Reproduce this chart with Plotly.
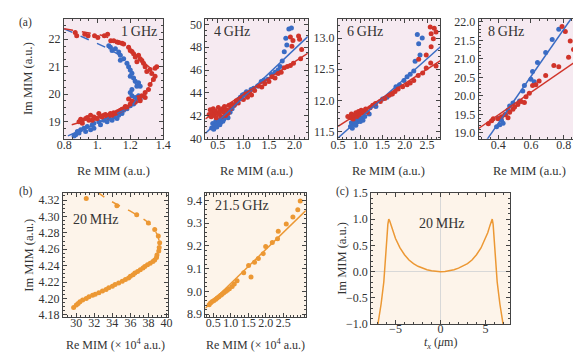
import plotly.graph_objects as go

# ---------------- data ----------------
# (a) 1 GHz : Re / Im MIM for two traces (red, blue) and dashed fit curves
g1_red_x = [0.867, 0.876, 0.925, 0.945, 0.984, 1.004, 1.043, 1.063, 1.082, 1.10, 1.12, 1.131, 1.15, 1.16, 1.19, 1.20,
            1.21, 1.22, 1.23, 1.25, 1.26, 1.24, 1.27, 1.28, 1.29, 1.30, 1.32, 1.33, 1.35, 1.36, 1.35, 1.34, 1.32, 1.31,
            1.29, 1.27, 1.29, 1.25, 1.26, 1.23, 1.21, 1.20, 1.18, 1.17, 1.16, 1.19, 1.14, 1.15, 1.13, 1.12, 1.10, 1.08,
            1.07, 1.05, 1.04, 1.02, 1.01, 0.99, 0.98, 0.96, 0.94, 0.93, 0.91, 0.90, 0.89, 0.91, 0.95, 0.97, 1.00, 1.03,
            1.06, 1.09, 1.11]
g1_red_y = [22.24, 22.12, 22.18, 22.12, 22.12, 22.06, 22.12, 22.18, 21.94, 21.94, 21.90, 21.88, 21.85, 21.82, 21.71, 21.59,
            21.55, 21.47, 21.35, 21.41, 21.29, 21.18, 21.22, 21.12, 21.00, 20.82, 20.90, 20.75, 20.94, 21.00, 20.65, 20.53,
            20.35, 20.17, 20.06, 19.94, 19.88, 19.88, 19.76, 19.70, 19.75, 19.64, 19.53, 19.55, 19.47, 19.82, 19.41, 19.45,
            19.38, 19.35, 19.32, 19.29, 19.22, 19.26, 19.23, 19.20, 19.29, 19.12, 19.17, 19.23, 19.15, 19.11, 19.05, 19.08,
            18.99, 18.94, 19.05, 19.05, 19.11, 19.17, 19.17, 19.23, 19.29]
g1_blue_x = [1.07, 1.08, 1.09, 1.11, 1.13, 1.14, 1.14, 1.16, 1.18, 1.19, 1.20, 1.21, 1.20, 1.22, 1.23, 1.25, 1.26, 1.24,
             1.21, 1.20, 1.21, 1.23, 1.25, 1.26, 1.24, 1.22, 1.20, 1.18, 1.16, 1.15, 1.13, 1.10, 1.07, 1.04, 1.01, 0.98,
             0.97, 0.94, 0.92, 0.90, 0.88, 0.87, 0.86, 0.89, 0.93, 0.96, 0.98, 1.02, 1.06, 1.09, 1.12]
g1_blue_y = [21.76, 21.71, 21.59, 21.65, 21.53, 21.41, 21.23, 21.29, 21.12, 21.00, 20.88, 20.76, 20.65, 20.59, 20.47, 20.41,
             20.29, 20.29, 20.17, 20.06, 19.94, 19.88, 19.94, 19.82, 19.76, 19.64, 19.58, 19.47, 19.41, 19.29, 19.23, 19.17,
             19.11, 19.05, 18.99, 18.94, 18.88, 18.82, 18.76, 18.70, 18.64, 18.52, 18.47, 18.58, 18.64, 18.70, 18.76, 18.88,
             18.99, 19.05, 19.11]
g1_red_fit_x = [0.80, 0.90, 1.02, 1.10, 1.18, 1.24, 1.28, 1.32, 1.34, 1.33, 1.31, 1.29, 1.24, 1.18, 1.14, 1.06, 0.98,
                0.90, 0.82, 0.80]
g1_red_fit_y = [22.38, 22.28, 22.15, 22.00, 21.72, 21.40, 21.18, 20.95, 20.75, 20.45, 20.20, 19.98, 19.72, 19.52, 19.42,
                19.26, 19.12, 18.98, 18.83, 18.80]
g1_blue_fit_x = [0.80, 0.90, 0.98, 1.06, 1.12, 1.16, 1.18, 1.20, 1.22, 1.235, 1.24, 1.235, 1.22, 1.19, 1.14, 1.06, 0.98,
                 0.90, 0.83, 0.80]
g1_blue_fit_y = [22.38, 22.10, 21.88, 21.68, 21.47, 21.30, 21.12, 20.90, 20.60, 20.30, 19.95, 19.80, 19.65, 19.50, 19.35,
                 19.10, 18.88, 18.68, 18.48, 18.42]

# (a) 4 GHz
g4_red_x = [0.33, 0.35, 0.37, 0.39, 0.41, 0.43, 0.45, 0.47, 0.49, 0.51, 0.53, 0.55, 0.57, 0.59, 0.61, 0.63, 0.65, 0.67,
            0.70, 0.72, 0.75, 0.78, 0.82, 0.86, 0.90, 0.95, 1.00, 1.05, 1.08, 1.12, 1.16, 1.22, 1.30, 1.36, 1.42, 1.50,
            1.56, 1.62, 1.68, 1.74, 1.80, 1.86, 1.92, 1.98, 2.08, 2.10, 2.14, 2.12, 1.92, 1.97, 1.95]
g4_red_y = [42.1, 42.5, 41.9, 42.3, 42.6, 42.0, 42.4, 41.8, 42.2, 42.7, 42.1, 42.4, 41.9, 42.6, 42.3, 42.8, 42.0, 42.5,
            42.2, 42.9, 42.6, 43.0, 42.9, 43.3, 43.1, 43.5, 43.4, 43.9, 43.6, 44.0, 43.8, 44.2, 44.6, 44.5, 44.8, 45.0,
            45.4, 45.3, 45.7, 45.8, 46.2, 46.3, 46.4, 46.6, 49.0, 48.7, 47.8, 47.0, 48.9, 48.6, 48.1]
g4_blue_x = [0.38, 0.40, 0.42, 0.44, 0.46, 0.48, 0.50, 0.52, 0.54, 0.56, 0.58, 0.60, 0.62, 0.65, 0.68, 0.70, 0.74, 0.78,
             0.82, 0.86, 0.90, 0.94, 0.98, 1.02, 1.06, 1.10, 1.15, 1.20, 1.28, 1.35, 1.40, 1.48, 1.55, 1.62, 1.68, 1.72,
             1.76, 1.80, 1.85, 1.83, 1.89, 1.94]
g4_blue_y = [40.9, 41.3, 40.8, 41.1, 41.5, 41.0, 41.3, 41.6, 41.2, 41.4, 41.8, 41.5, 41.7, 41.9, 42.0, 41.8, 42.3, 42.6,
             42.9, 43.1, 43.4, 43.6, 43.8, 43.9, 44.1, 44.0, 44.3, 44.4, 44.6, 45.0, 45.1, 45.2, 45.6, 45.8, 46.0, 46.3,
             46.8, 47.6, 48.2, 48.8, 49.6, 49.7]
g4_red_fit = [40.966, 2.88]    # intercept, slope
g4_blue_fit = [39.336, 4.25]

# (a) 6 GHz
g6_red_x = [0.72, 0.78, 0.80, 0.84, 0.86, 0.90, 0.93, 0.96, 0.98, 1.02, 1.05, 1.08, 1.12, 1.16, 1.22, 1.28, 1.34, 1.45,
            1.55, 1.65, 1.72, 1.78, 1.85, 1.95, 2.05, 2.12, 2.20, 2.30, 2.40, 2.48, 2.58, 2.70, 2.31, 2.48, 2.59, 2.64,
            2.59, 2.57, 2.66, 2.70]
g6_red_y = [11.74, 11.72, 11.78, 11.70, 11.76, 11.80, 11.74, 11.82, 11.77, 11.84, 11.80, 11.83, 11.86, 11.81, 11.88, 11.92,
            11.95, 11.98, 12.03, 12.08, 12.10, 12.14, 12.18, 12.22, 12.25, 12.28, 12.32, 12.40, 12.44, 12.52, 12.60, 12.55,
            12.66, 12.73, 12.86, 12.99, 13.07, 13.18, 13.16, 13.10]
g6_blue_x = [0.78, 0.80, 0.82, 0.85, 0.88, 0.90, 0.93, 0.96, 1.00, 1.03, 1.06, 1.10, 1.20, 1.35, 1.50, 1.60, 1.70, 1.80,
             1.88, 1.98, 2.05, 2.12, 2.20, 2.23, 2.28, 2.31, 2.34, 2.39]
g6_blue_y = [11.58, 11.64, 11.55, 11.62, 11.68, 11.60, 11.65, 11.70, 11.66, 11.72, 11.68, 11.74, 11.78, 11.90, 12.02, 12.05,
             12.10, 12.22, 12.25, 12.32, 12.38, 12.42, 12.47, 12.63, 13.06, 12.91, 12.73, 13.00]
g6_red_fit = [11.352, 0.459]
g6_blue_fit = [11.075, 0.638]

# (a) 8 GHz
g8_red_x = [0.34, 0.36, 0.37, 0.40, 0.42, 0.44, 0.46, 0.47, 0.49, 0.50, 0.52, 0.54, 0.56, 0.57, 0.59, 0.61, 0.63, 0.65,
            0.69, 0.74, 0.77, 0.79, 0.81, 0.84, 0.86, 0.83]
g8_red_y = [19.25, 19.33, 19.38, 19.38, 19.44, 19.49, 19.41, 19.56, 19.64, 19.70, 19.77, 19.85, 19.82, 19.98, 20.07, 20.28,
            20.30, 20.40, 20.55, 20.82, 20.79, 21.87, 21.74, 21.48, 21.25, 21.04]
g8_blue_x = [0.39, 0.40, 0.41, 0.42, 0.43, 0.445, 0.46, 0.47, 0.49, 0.53, 0.55, 0.56, 0.60, 0.61, 0.62, 0.64, 0.69, 0.73,
             0.77]
g8_blue_y = [19.17, 19.39, 19.22, 19.34, 19.26, 19.50, 19.62, 19.73, 19.81, 19.86, 20.13, 20.28, 20.45, 20.66, 20.38, 20.90,
             21.17, 21.52, 21.80]
g8_red_fit = [18.266, 3.05]
g8_blue_fit = [16.715, 6.35]

# (b) 20 MHz
m20_x = [31.1, 34.5, 36.7, 38.0, 38.7, 39.1, 39.25, 39.2, 39.15, 38.95, 38.7, 38.2, 37.6, 37.1, 36.5, 36.0, 35.45, 34.7,
         34.0, 33.3, 32.5, 31.8, 31.1, 30.4, 30.0, 29.7, 30.2, 30.7, 31.4, 32.1, 32.9, 33.6, 34.3, 35.1, 35.8, 36.3, 36.8,
         37.4, 37.9, 38.5, 38.9]
m20_y = [4.322, 4.313, 4.302, 4.292, 4.284, 4.276, 4.268, 4.262, 4.258, 4.253, 4.247, 4.243, 4.239, 4.235, 4.231, 4.227,
         4.223, 4.219, 4.215, 4.211, 4.207, 4.204, 4.200, 4.196, 4.192, 4.189, 4.194, 4.198, 4.202, 4.205, 4.209, 4.213,
         4.217, 4.221, 4.225, 4.229, 4.233, 4.237, 4.241, 4.245, 4.250]
m20_fit_x = [32.3, 33.3, 34.6, 35.9, 37.0, 37.7, 38.2, 38.6, 39.0, 39.2, 39.2]
m20_fit_y = [4.330, 4.322, 4.314, 4.307, 4.300, 4.295, 4.290, 4.284, 4.278, 4.270, 4.262]

# (b) 21.5 GHz
g215_x = [0.38, 0.42, 0.47, 0.52, 0.57, 0.61, 0.66, 0.71, 0.75, 0.80, 0.85, 0.90, 0.96, 1.04, 1.10, 1.18, 1.37, 1.51,
          1.58, 1.68, 1.79, 1.93, 2.00, 2.19, 2.34, 2.36, 2.59, 2.78, 2.92, 2.99]
g215_y = [8.942, 8.949, 8.956, 8.960, 8.966, 8.971, 8.977, 8.983, 8.988, 8.994, 9.000, 9.005, 9.012, 9.022, 9.033, 9.047,
          9.082, 9.114, 9.064, 9.128, 9.145, 9.166, 9.197, 9.215, 9.232, 9.264, 9.296, 9.327, 9.359, 9.397]
g215_fit = [8.886, 0.149]

# (c) 20 MHz profile
tx = [-6.95, -6.6, -6.3, -6.1, -5.95, -5.85, -5.75, -5.65, -5.5, -5.25, -5.0, -4.5, -4.0, -3.5, -3.0, -2.5, -2.0, -1.5,
      -1.0, -0.5, 0.0, 0.5, 1.0, 1.5, 2.0, 2.5, 3.0, 3.5, 4.0, 4.5, 5.0, 5.25, 5.5, 5.65, 5.75, 5.85, 5.95, 6.1, 6.3,
      6.6, 6.95]
im_tx = [-1.0, -0.62, -0.2, 0.2, 0.65, 0.9, 1.0, 0.97, 0.88, 0.74, 0.63, 0.45, 0.32, 0.22, 0.15, 0.10, 0.065, 0.035,
         0.015, 0.0, -0.005, 0.0, 0.015, 0.035, 0.065, 0.10, 0.15, 0.22, 0.32, 0.45, 0.63, 0.74, 0.88, 0.97, 1.0, 0.9,
         0.65, 0.2, -0.2, -0.62, -1.0]

# ---------------- styling ----------------
W, H = 581, 352
RED = "rgb(208,52,42)"
BLUE = "rgb(58,108,196)"
ORANGE = "rgb(236,152,52)"
BG_A = "#f6eaf1"
BG_B = "#fdf4ea"
FRAME = "#444444"
FONT = "Liberation Serif"
TXT = "#333333"


def xdom(l, r):
    return [l / W, r / W]


def ydom(t, b):
    return [1 - b / H, 1 - t / H]


def axis(dom, rng, tv, tt, anchor, minor_dtick, zero=False, standoff=0):
    return dict(domain=dom, range=rng, tickvals=tv, ticktext=tt, anchor=anchor,
                showline=True, linecolor=FRAME, linewidth=1, mirror="allticks",
                ticks="inside", ticklen=4, tickwidth=1, tickcolor=FRAME, ticklabelstandoff=standoff,
                minor=dict(ticks="inside", ticklen=2, tickcolor=FRAME, dtick=minor_dtick, showgrid=False),
                showgrid=False, zeroline=zero, zerolinecolor="#d8d8d8", zerolinewidth=1,
                tickfont=dict(family=FONT, size=12, color=TXT), fixedrange=True)


fig = go.Figure()


def dots(x, y, color, n):
    fig.add_trace(go.Scatter(x=x, y=y, mode="markers", xaxis="x" + n, yaxis="y" + n,
                             marker=dict(size=5, color=color, line=dict(width=0))))


def curve(x, y, color, n, dash="solid"):
    fig.add_trace(go.Scatter(x=x, y=y, mode="lines", xaxis="x" + n, yaxis="y" + n,
                             line=dict(color=color, width=1.5, dash=dash)))


def fitline(fit, rng, color, n):
    xs = [rng[0], rng[1]]
    curve(xs, [fit[0] + fit[1] * v for v in xs], color, n)


ranges = {
    "1": ([0.798, 1.40], [18.37, 22.74]),
    "2": ([0.255, 2.26], [39.95, 50.5]),
    "3": ([0.50, 2.80], [11.38, 13.31]),
    "4": ([0.28, 0.90], [18.84, 22.08]),
    "5": ([28.5, 40.2], [4.178, 4.329]),
    "6": ([0.27, 3.15], [8.89, 9.434]),
    "7": ([-7.7, 7.7], [-1.005, 1.505]),
}

# 1 GHz
dots(g1_blue_x, g1_blue_y, BLUE, "1")
dots(g1_red_x, g1_red_y, RED, "1")
curve(g1_blue_fit_x, g1_blue_fit_y, BLUE, "1", "dash")
curve(g1_red_fit_x, g1_red_fit_y, RED, "1", "dash")
# 4, 6, 8 GHz
for n, bx, by, rx, ry, bf, rf in [("2", g4_blue_x, g4_blue_y, g4_red_x, g4_red_y, g4_blue_fit, g4_red_fit),
                                  ("3", g6_blue_x, g6_blue_y, g6_red_x, g6_red_y, g6_blue_fit, g6_red_fit),
                                  ("4", g8_blue_x, g8_blue_y, g8_red_x, g8_red_y, g8_blue_fit, g8_red_fit)]:
    dots(bx, by, BLUE, n)
    dots(rx, ry, RED, n)
    fitline(bf, ranges[n][0], BLUE, n)
    fitline(rf, ranges[n][0], RED, n)
# 20 MHz
curve(m20_fit_x, m20_fit_y, ORANGE, "5", "dash")
dots(m20_x, m20_y, ORANGE, "5")
# 21.5 GHz
dots(g215_x, g215_y, ORANGE, "6")
fitline(g215_fit, ranges["6"][0], ORANGE, "6")
# profile
curve(tx, im_tx, ORANGE, "7")

layout = dict(width=W, height=H, margin=dict(l=0, r=0, t=0, b=0), showlegend=False,
              paper_bgcolor="white", plot_bgcolor="rgba(0,0,0,0)")

XS = -5  # pull x tick labels closer to the frame
layout["xaxis"] = axis(xdom(50, 152), ranges["1"][0], [0.8, 1.0, 1.2, 1.4], ["0.8", "1.", "1.2", "1.4"], "y", 0.05,
                       standoff=XS)
layout["yaxis"] = axis(ydom(4, 129), ranges["1"][1], [19, 20, 21, 22], ["19", "20", "21", "22"], "x", 0.25)
layout["xaxis2"] = axis(xdom(195, 300), ranges["2"][0], [0.5, 1.0, 1.5, 2.0], ["0.5", "1.0", "1.5", "2.0"], "y2", 0.1,
                        standoff=XS)
layout["yaxis2"] = axis(ydom(4, 129), ranges["2"][1], [40, 42, 44, 46, 48, 50],
                        ["40", "42", "44", "46", "48", "50"], "x2", 0.5)
layout["xaxis3"] = axis(xdom(331, 436), ranges["3"][0], [0.5, 1.0, 1.5, 2.0, 2.5],
                        ["0.5", "1.0", "1.5", "2.0", "2.5"], "y3", 0.1, standoff=XS)
layout["yaxis3"] = axis(ydom(4, 129), ranges["3"][1], [11.5, 12.0, 12.5, 13.0],
                        ["11.5", "12.0", "12.5", "13.0"], "x3", 0.1)
layout["xaxis4"] = axis(xdom(475, 579), ranges["4"][0], [0.4, 0.6, 0.8], ["0.4", "0.6", "0.8"], "y4", 0.05,
                        standoff=XS)
layout["yaxis4"] = axis(ydom(4, 129), ranges["4"][1], [19.0, 19.5, 20.0, 20.5, 21.0, 21.5, 22.0],
                        ["19.0", "19.5", "20.0", "20.5", "21.0", "21.5", "22.0"], "x4", 0.1)
layout["xaxis5"] = axis(xdom(49, 157), ranges["5"][0], [30, 32, 34, 36, 38, 40],
                        ["30", "32", "34", "36", "38", "40"], "y5", 0.5, standoff=XS)
layout["yaxis5"] = axis(ydom(185, 314), ranges["5"][1], [4.18, 4.20, 4.22, 4.24, 4.26, 4.28, 4.30, 4.32],
                        ["4.18", "4.20", "4.22", "4.24", "4.26", "4.28", "4.30", "4.32"], "x5", 0.005)
layout["xaxis6"] = axis(xdom(195, 298), ranges["6"][0], [0.5, 1.0, 1.5, 2.0, 2.5],
                        ["0.5", "1.0", "1.5", "2.0", "2.5"], "y6", 0.1, standoff=XS)
layout["yaxis6"] = axis(ydom(185, 314), ranges["6"][1], [8.9, 9.0, 9.1, 9.2, 9.3, 9.4],
                        ["8.9", "9.0", "9.1", "9.2", "9.3", "9.4"], "x6", 0.02)
layout["xaxis7"] = axis(xdom(365, 507), ranges["7"][0], [-5, 0, 5], ["\u22125", "0", "5"], "y7", 1, zero=True,
                        standoff=-7)
layout["yaxis7"] = axis(ydom(185, 322), ranges["7"][1], [-1.0, -0.5, 0.0, 0.5, 1.0, 1.5],
                        ["\u22121.0", "\u22120.5", "0.0", "0.5", "1.0", "1.5"], "x7", 0.1, zero=True)

# panel backgrounds
shapes = []
for n, col in [("", BG_A), ("2", BG_A), ("3", BG_A), ("4", BG_A), ("5", BG_B), ("6", BG_B), ("7", BG_B)]:
    shapes.append(dict(type="rect", xref="x%s domain" % n, yref="y%s domain" % n, x0=0, x1=1, y0=0, y1=1,
                       fillcolor=col, line=dict(width=0), layer="below"))
layout["shapes"] = shapes


def note(text, x, y, size=12.5, xanchor="center", yanchor="middle", angle=0, color=TXT):
    return dict(text=text, x=x / W, y=1 - y / H, xref="paper", yref="paper", showarrow=False,
                xanchor=xanchor, yanchor=yanchor, textangle=angle,
                font=dict(family=FONT, size=size, color=color))


re_au = "Re MIM (a.u.)"
re_e4 = "Re MIM (\u00d7 10<sup>4</sup> a.u.)"
im_au = "Im MIM (a.u.)"
layout["annotations"] = [
    note("(a)", 2, 8, 11.5, "left"),
    note("(b)", 2, 184, 11.5, "left"),
    note("(c)", 327, 184, 11.5, "left"),
    note(im_au, 14, 66, angle=-90),
    note(im_au, 14, 250, angle=-90),
    note(im_au, 335, 253, angle=-90),
    note(re_au, 101, 162),
    note(re_au, 247, 162),
    note(re_au, 383, 162),
    note(re_au, 527, 162),
    note(re_e4, 103, 343, 12),
    note(re_e4, 246, 343, 12),
    note("<i>t<sub>x</sub></i> (<i>\u03bc</i>m)", 436, 352, 12, yanchor="bottom"),
    note("1\u2009GHz", 148, 17, 14, "right"),
    note("4\u2009GHz", 202, 17, 14, "left"),
    note("6\u2009GHz", 338, 17, 14, "left"),
    note("8\u2009GHz", 483, 17, 14, "left"),
    note("20\u2009MHz", 57, 213, 14, "left"),
    note("21.5\u2009GHz", 203, 198, 14, "left"),
    note("20\u2009MHz", 438, 217, 14),
]

fig.update_layout(**layout)
fig.write_html("out.html")
